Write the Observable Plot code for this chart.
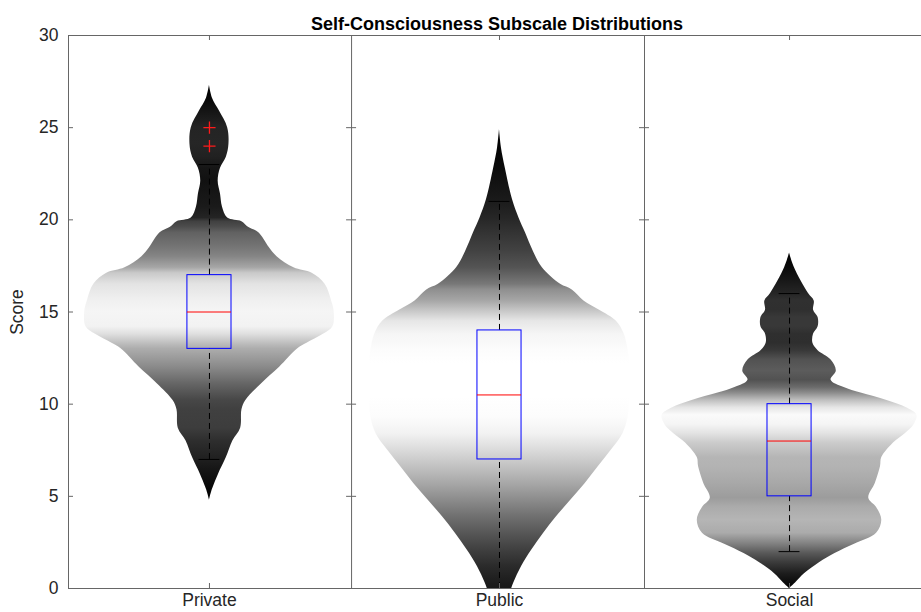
<!DOCTYPE html>
<html><head><meta charset="utf-8">
<script src="https://cdn.jsdelivr.net/npm/d3@7"></script>
<script src="https://cdn.jsdelivr.net/npm/@observablehq/plot@0.6"></script>
<style>body{margin:0;background:#fff;} svg{display:block;}</style>
</head><body><div id="chart"></div>
<script>
const title = "Self-Consciousness Subscale Distributions";
const yLabel = "Score";
const categories = ["Private", "Public", "Social"];
const yTicks = [0, 5, 10, 15, 20, 25, 30];

// Violin profiles: score positions and relative density (0–1)
const privateScore   = [4.8, 5.2, 5.5, 6.2, 7.1, 8.0, 8.7, 9.7, 10.2, 11.1, 12.0, 13.0, 13.3, 13.8, 14.2, 15.0, 15.6, 16.5, 17.1, 17.4, 18.0, 18.5, 19.3, 19.6, 19.9, 20.1, 20.7, 21.4, 22.1, 22.8, 23.4, 24.1, 25.0, 25.9, 26.6, 27.3];
const privateDensity = [0, 0.015, 0.03, 0.07, 0.13, 0.18, 0.24, 0.25, 0.28, 0.40, 0.54, 0.68, 0.75, 0.88, 0.95, 0.96, 0.94, 0.89, 0.79, 0.65, 0.52, 0.46, 0.38, 0.30, 0.25, 0.14, 0.10, 0.085, 0.067, 0.085, 0.13, 0.15, 0.14, 0.077, 0.023, 0];

const publicScore   = [-0.5, 0.3, 1.2, 2.1, 3.0, 3.9, 4.8, 5.7, 6.6, 7.5, 8.4, 9.3, 10.4, 12.2, 12.9, 13.8, 14.5, 15.1, 15.6, 16.2, 16.5, 17.4, 18.3, 19.3, 20.1, 21.1, 22.8, 23.9, 24.9];
const publicDensity = [0.07, 0.11, 0.17, 0.25, 0.34, 0.44, 0.55, 0.66, 0.76, 0.86, 0.95, 0.99, 1.0, 1.0, 0.99, 0.96, 0.90, 0.77, 0.65, 0.56, 0.47, 0.33, 0.26, 0.20, 0.15, 0.10, 0.045, 0.015, 0];

const socialScore   = [0, 0.3, 0.8, 1.4, 1.9, 2.4, 3.0, 3.7, 4.4, 4.9, 5.7, 6.6, 7.1, 7.9, 8.4, 8.9, 9.4, 9.8, 10.2, 10.6, 10.9, 11.3, 11.8, 12.4, 12.9, 13.3, 13.8, 14.2, 14.7, 15.1, 15.6, 16.0, 17.4, 18.2];
const socialDensity = [0, 0.046, 0.115, 0.23, 0.35, 0.5, 0.67, 0.71, 0.67, 0.61, 0.66, 0.70, 0.71, 0.80, 0.89, 0.96, 0.98, 0.90, 0.75, 0.55, 0.42, 0.32, 0.36, 0.32, 0.22, 0.18, 0.185, 0.22, 0.22, 0.185, 0.19, 0.146, 0.038, 0];

// Box plot statistics
const q1          = [13, 7, 5];
const median      = [15, 10.5, 8];
const q3          = [17, 14, 10];
const whiskerLow  = [7, 0, 2];
const whiskerHigh = [23, 21, 16];
const outlierCategory = ["Private", "Private"];
const outlierScore    = [24, 25];

// ---- build tables ----
const pos = c => categories.indexOf(c) + 1;
const profiles = [
  {name: "Private", score: privateScore, density: privateDensity},
  {name: "Public",  score: publicScore,  density: publicDensity},
  {name: "Social",  score: socialScore,  density: socialDensity}
];
const violinData = profiles.map(p => p.score.map((s, i) => ({category: p.name, x: pos(p.name), score: s, density: p.density[i]})));
const stats = categories.map((c, i) => ({category: c, x: i + 1, q1: q1[i], median: median[i], q3: q3[i], lo: whiskerLow[i], hi: whiskerHigh[i]}));
const outliers = outlierScore.map((s, i) => ({x: pos(outlierCategory[i]), score: s}));

const HALF = 0.448, BOX = 0.076, CAP = 0.036;
const xDomain = [0.514, 3.455];
const dividers = [1.49, 2.5];
const axisColor = "#666";
const textColor = "#262626";

const marks = [];
violinData.forEach((d, k) => {
  marks.push(Plot.areaX(d, {
    y: "score",
    x1: p => p.x - p.density * HALF,
    x2: p => p.x + p.density * HALF,
    curve: "catmull-rom",
    fill: `url(#violin-grad-${k})`,
    className: `violin-${k}`,
    clip: true
  }));
});

marks.push(
  // whiskers
  Plot.ruleX(stats, {x: "x", y1: "q3", y2: "hi", stroke: "black", strokeDasharray: "6,4"}),
  Plot.ruleX(stats, {x: "x", y1: "lo", y2: "q1", stroke: "black", strokeDasharray: "6,4"}),
  Plot.ruleY(stats, {y: "hi", x1: d => d.x - CAP, x2: d => d.x + CAP, stroke: "black"}),
  Plot.ruleY(stats, {y: "lo", x1: d => d.x - CAP, x2: d => d.x + CAP, stroke: "black"}),
  // boxes
  Plot.rect(stats, {x1: d => d.x - BOX, x2: d => d.x + BOX, y1: "q1", y2: "q3", fill: "none", stroke: "#0000ff"}),
  Plot.ruleY(stats, {y: "median", x1: d => d.x - BOX, x2: d => d.x + BOX, stroke: "#ff0000"}),
  Plot.dot(outliers, {x: "x", y: "score", symbol: "plus", stroke: "#ff1a1a", r: 4, strokeWidth: 1.3}),
  // frame
  Plot.ruleY([0, 30], {stroke: axisColor}),
  Plot.ruleX([xDomain[0], ...dividers], {stroke: axisColor}),
  // ticks
  Plot.ruleY(yTicks, {x1: () => xDomain[0], x2: () => xDomain[0], insetRight: -5, stroke: axisColor}),
  Plot.ruleY(yTicks.flatMap(t => dividers.map(b => ({t, b}))), {y: "t", x1: "b", x2: "b", insetLeft: -5, insetRight: -5, stroke: axisColor}),
  Plot.ruleX([1, 2, 3], {y1: () => 30, y2: () => 30, insetBottom: -5, stroke: axisColor}),
  Plot.ruleX([1, 2, 3], {y1: () => 0, y2: () => 0, insetTop: -5, stroke: axisColor}),
  // axes
  Plot.axisY({ticks: yTicks, tickSize: 0, tickPadding: 10, fontSize: 17.5, color: textColor,
    label: yLabel, labelAnchor: "center", labelArrow: "none", labelOffset: 58}),
  Plot.axisX({ticks: [1, 2, 3], tickFormat: d => categories[d - 1], tickSize: 0, tickPadding: 5, fontSize: 17.5, color: textColor, label: null}),
  // title
  Plot.text([title], {frameAnchor: "top", dy: -18, dx: 2, fontWeight: "bold", fontSize: 18, fill: "black"})
);

const chart = Plot.plot({
  width: 921,
  height: 612,
  marginTop: 35,
  marginBottom: 24,
  marginLeft: 68,
  marginRight: 0,
  style: {fontFamily: "'Liberation Sans', Arial, Helvetica, sans-serif", background: "white"},
  x: {domain: xDomain},
  y: {domain: [0, 30]},
  marks
});

// vertical density gradients for each violin
const yScale = chart.scale("y");
const gray = Plot.scale({color: {type: "linear", domain: [0, 1], range: ["#000000", "#ffffff"]}});
const defs = d3.select(chart).insert("defs", ":first-child");
violinData.forEach((d, k) => {
  const lo = d3.min(d, p => p.score), hi = d3.max(d, p => p.score);
  const g = defs.append("linearGradient")
    .attr("id", `violin-grad-${k}`)
    .attr("gradientUnits", "userSpaceOnUse")
    .attr("x1", 0).attr("x2", 0)
    .attr("y1", yScale.apply(lo)).attr("y2", yScale.apply(hi));
  d.forEach(p => g.append("stop").attr("offset", (p.score - lo) / (hi - lo)).attr("stop-color", gray.apply(p.density)));
  d3.select(chart).selectAll(`.violin-${k} path`).attr("fill", `url(#violin-grad-${k})`);
});

document.getElementById("chart").appendChild(chart);
</script>
</body></html>
